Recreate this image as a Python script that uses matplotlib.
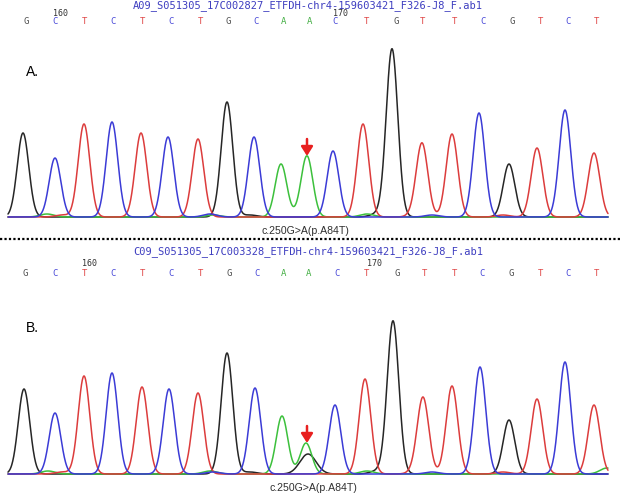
import numpy as np
import matplotlib
matplotlib.use("Agg")
import matplotlib.pyplot as plt

W, H = 622, 495

# ---------------- data ----------------
bases = list("GCTCTCTGCAACTGTTCGTCT")
# peak positions (scan position, shared scale with figure width)
peak_pos_a = [23, 55, 84, 112, 141, 168, 198, 227, 254, 281, 307, 333, 363, 392, 422, 452, 479, 509, 537, 565, 594]
peak_h_a = [84, 59, 93, 95, 84, 80, 78, 115, 80, 53, 60, 66, 93, 168, 73, 83, 104, 53, 69, 107, 64]
peak_pos_b = [24, 55, 84, 112, 142, 169, 198, 227, 255, 282, 306, 335, 365, 393, 423, 452, 480, 509, 537, 565, 594]
peak_h_b = [85, 61, 98, 101, 87, 85, 81, 121, 86, 58, 31, 69, 95, 153, 76, 88, 107, 54, 75, 112, 69]
# secondary (heterozygous) peak in B at mutation site
het_base_b = "G"
het_pos_b = 308
het_h_b = 20
# small background bumps: (channel, position, height)
minor_a = [("A", 47, 3), ("T", 62, 2), ("C", 210, 3), ("A", 213, 2), ("G", 250, 2), ("A", 367, 3),
           ("G", 377, 3), ("T", 415, 2), ("C", 432, 2), ("T", 503, 2), ("A", 300, 2)]
minor_b = [("A", 48, 3), ("T", 62, 2), ("A", 210, 3), ("C", 213, 2), ("G", 250, 2), ("A", 367, 3),
           ("G", 377, 3), ("T", 415, 2), ("C", 432, 2), ("T", 503, 2), ("A", 607, 6)]

call_pos_a = [26, 55, 85, 113, 142, 171, 200, 228, 256, 284, 310, 335, 367, 396, 423, 454, 483, 512, 540, 568, 597]
call_pos_b = [25, 55, 85, 113, 142, 171, 201, 229, 257, 284, 309, 337, 367, 397, 424, 454, 482, 511, 540, 568, 597]

title_a = "A09_S051305_17C002827_ETFDH-chr4-159603421_F326-J8_F.ab1"
title_b = "C09_S051305_17C003328_ETFDH-chr4-159603421_F326-J8_F.ab1"
mutation = "c.250G>A(p.A84T)"

colors = {"G": "#262626", "C": "#3b3bd6", "T": "#dc3c3c", "A": "#3cc03c"}
text_colors = {"G": "#505050", "C": "#4848d8", "T": "#e04848", "A": "#48b048"}
order = ["G", "A", "T", "C"]

SIGMA = 5.8
x = np.linspace(8, 608, 2400)

fig = plt.figure(figsize=(W / 100, H / 100), dpi=100)
fig.patch.set_facecolor("white")


def fx(px):
    return px / W


def fy(py):
    return 1 - py / H


def make_trace_axes(baseline_px):
    ax = fig.add_axes([0, fy(baseline_px + 3), 1, 183 / H])
    ax.set_xlim(0, W)
    ax.set_ylim(-3, 180)
    ax.axis("off")
    return ax


def draw_traces(ax, pos, hts, minor, het=None):
    for ch in order:
        y = np.zeros_like(x)
        for b, p, h in zip(bases, pos, hts):
            if b == ch:
                y += h * np.exp(-0.5 * ((x - p) / SIGMA) ** 2)
        for c, p, h in minor:
            if c == ch:
                y += h * np.exp(-0.5 * ((x - p) / (SIGMA * 1.2)) ** 2)
        if het is not None and het[0] == ch:
            y += het[2] * np.exp(-0.5 * ((x - het[1]) / (SIGMA * 1.4)) ** 2)
        ax.plot(x, y, color=colors[ch], lw=1.1, solid_capstyle="round", clip_on=False)


def draw_header(title, title_top, calls, call_y, n160, n170, num_y):
    fig.text(fx(133), fy(title_top), title, family="DejaVu Sans Mono", fontsize=7.5,
             color="#3d3dc0", va="top", ha="left")
    for b, p in zip(bases, calls):
        fig.text(fx(p), fy(call_y), b, family="DejaVu Sans Mono", fontsize=6.5,
                 color=text_colors[b], ha="center", va="center")
    fig.text(fx(n160), fy(num_y), "160", family="DejaVu Sans Mono", fontsize=6.0,
             color="#303030", ha="left", va="center")
    fig.text(fx(n170), fy(num_y), "170", family="DejaVu Sans Mono", fontsize=6.0,
             color="#303030", ha="left", va="center")


def draw_arrow(px, y0, y1):
    fig.add_artist(matplotlib.patches.FancyArrowPatch(
        (fx(px), fy(y0)), (fx(px), fy(y1)), transform=fig.transFigure,
        arrowstyle="-|>,head_length=0.55,head_width=0.35", mutation_scale=10,
        color="#e82020", lw=1.8, shrinkA=0, shrinkB=0))


# Panel A
axA = make_trace_axes(217)
draw_traces(axA, peak_pos_a, peak_h_a, minor_a)
draw_header(title_a, 0.2, call_pos_a, 21, 53, 333, 13)
fig.text(fx(26), fy(72), "A.", family="Liberation Sans", fontsize=10, color="black", va="center")
fig.text(fx(262), fy(231), mutation, family="Liberation Sans", fontsize=7.6, color="#303030", va="center")
draw_arrow(307, 139, 156)

# dotted separator
fig.add_artist(matplotlib.lines.Line2D([0, 1], [fy(239), fy(239)], transform=fig.transFigure,
                                       color="black", lw=1.6, ls=(0, (1, 1))))

# Panel B
axB = make_trace_axes(474)
draw_traces(axB, peak_pos_b, peak_h_b, minor_b, het=(het_base_b, het_pos_b, het_h_b))
draw_header(title_b, 246.5, call_pos_b, 273, 82, 367, 264)
fig.text(fx(26), fy(328), "B.", family="Liberation Sans", fontsize=10, color="black", va="center")
fig.text(fx(270), fy(488), mutation, family="Liberation Sans", fontsize=7.6, color="#303030", va="center")
draw_arrow(307, 426, 443)

fig.savefig("out.png", dpi=100, facecolor="white")
